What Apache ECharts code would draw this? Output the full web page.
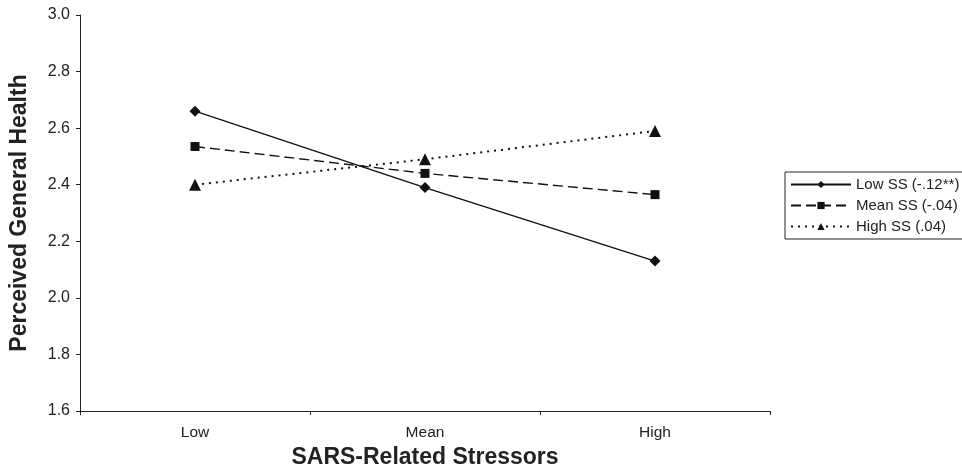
<!DOCTYPE html>
<html><head><meta charset="utf-8">
<script src="https://cdn.jsdelivr.net/npm/echarts@6/dist/echarts.min.js"></script>
<style>html,body{margin:0;padding:0;background:#fff}#c{width:962px;height:472px}</style>
</head><body><div id="c"></div>
<script>
const categories = ['Low', 'Mean', 'High'];
const lowSS = [2.66, 2.39, 2.13];
const meanSS = [2.535, 2.44, 2.365];
const highSS = [2.40, 2.49, 2.59];
const seriesNames = ['Low SS (-.12**)', 'Mean SS (-.04)', 'High SS (.04)'];
const yTicks = { min: 1.6, max: 3.0, interval: 0.2 };

const font = 'Liberation Sans, Arial, sans-serif';
const chart = echarts.init(document.getElementById('c'));
chart.setOption({
  animation: false,
  backgroundColor: '#fff',
  textStyle: { fontFamily: font },
  grid: { left: 80, right: 192, top: 15, bottom: 61, outerBoundsMode: 'none', containLabel: false },
  legend: {
    orient: 'vertical', left: 785, top: 172,
    data: seriesNames,
    itemWidth: 60, itemHeight: 9, itemGap: 6,
    padding: [5, 8, 5, 5],
    borderColor: '#222', borderWidth: 1,
    textStyle: { fontSize: 15, lineHeight: 14, color: '#222', fontFamily: font }
  },
  xAxis: {
    type: 'category', data: categories, boundaryGap: true,
    name: 'SARS-Related Stressors', nameLocation: 'middle', nameGap: 32,
    nameTextStyle: { fontSize: 23, fontWeight: 'bold', color: '#222', fontFamily: font },
    axisLine: { lineStyle: { color: '#222', width: 1 } },
    axisTick: { show: true, length: 4, lineStyle: { color: '#222' } },
    axisLabel: { fontSize: 15.5, color: '#222', margin: 14, fontFamily: font },
    splitLine: { show: false }
  },
  yAxis: {
    type: 'value', min: yTicks.min, max: yTicks.max, interval: yTicks.interval,
    name: 'Perceived General Health', nameLocation: 'middle', nameGap: 49,
    nameTextStyle: { fontSize: 23, fontWeight: 'bold', color: '#222', fontFamily: font },
    axisLine: { show: true, lineStyle: { color: '#222', width: 1 } },
    axisTick: { show: true, length: 4, lineStyle: { color: '#222' } },
    axisLabel: { fontSize: 16, color: '#222', margin: 10, fontFamily: font,
      formatter: v => v.toFixed(1) },
    splitLine: { show: false }
  },
  series: [
    { name: seriesNames[0], type: 'line', data: lowSS, symbol: 'diamond', symbolSize: 11,
      itemStyle: { color: '#111' }, lineStyle: { color: '#111', width: 1.4, type: 'solid' } },
    { name: seriesNames[1], type: 'line', data: meanSS, symbol: 'rect', symbolSize: 9,
      itemStyle: { color: '#111' }, lineStyle: { color: '#111', width: 1.4, type: [10, 5] } },
    { name: seriesNames[2], type: 'line', data: highSS, symbol: 'triangle', symbolSize: 12,
      itemStyle: { color: '#111' }, lineStyle: { color: '#111', width: 2, type: [2, 5] } }
  ]
});
</script></body></html>
